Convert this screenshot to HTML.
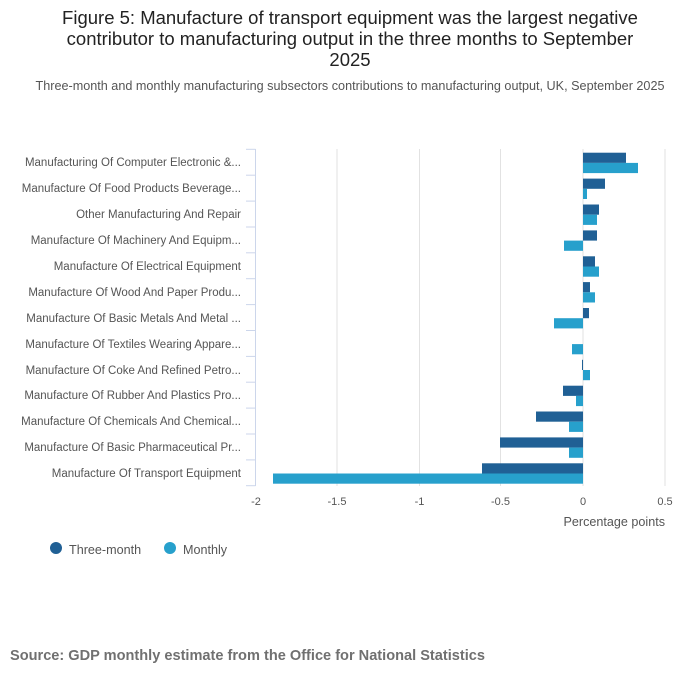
<!DOCTYPE html>
<html><head><meta charset="utf-8"><style>
body{margin:0;background:#fff;width:700px;height:682px;overflow:hidden;font-family:"Liberation Sans",sans-serif}
</style></head><body>
<svg width="700" height="682" xmlns="http://www.w3.org/2000/svg" font-family="Liberation Sans, sans-serif">
<text x="350" y="24" font-size="18.5" fill="#222" text-anchor="middle">Figure 5: Manufacture of transport equipment was the largest negative</text>
<text x="350" y="45" font-size="18.5" fill="#222" text-anchor="middle">contributor to manufacturing output in the three months to September</text>
<text x="350" y="66" font-size="18.5" fill="#222" text-anchor="middle">2025</text>
<text x="350" y="90" font-size="12.6" fill="#555" text-anchor="middle" textLength="629" lengthAdjust="spacingAndGlyphs">Three-month and monthly manufacturing subsectors contributions to manufacturing output, UK, September 2025</text>
<g stroke="#e2e2e2" stroke-width="1">
<line x1="337" y1="149" x2="337" y2="486"/><line x1="419.5" y1="149" x2="419.5" y2="486"/><line x1="500.5" y1="149" x2="500.5" y2="486"/><line x1="583" y1="149" x2="583" y2="486"/><line x1="665" y1="149" x2="665" y2="486"/>
</g>
<g stroke="#ccd6eb" stroke-width="1">
<line x1="255.5" y1="149" x2="255.5" y2="486"/>
<line x1="246" y1="149.3" x2="255.5" y2="149.3"/><line x1="246" y1="175.2" x2="255.5" y2="175.2"/><line x1="246" y1="201.1" x2="255.5" y2="201.1"/><line x1="246" y1="227" x2="255.5" y2="227"/><line x1="246" y1="252.8" x2="255.5" y2="252.8"/><line x1="246" y1="278.7" x2="255.5" y2="278.7"/><line x1="246" y1="304.6" x2="255.5" y2="304.6"/><line x1="246" y1="330.5" x2="255.5" y2="330.5"/><line x1="246" y1="356.4" x2="255.5" y2="356.4"/><line x1="246" y1="382.2" x2="255.5" y2="382.2"/><line x1="246" y1="408.1" x2="255.5" y2="408.1"/><line x1="246" y1="434" x2="255.5" y2="434"/><line x1="246" y1="459.9" x2="255.5" y2="459.9"/><line x1="246" y1="485.7" x2="255.5" y2="485.7"/>
</g>
<g font-size="11.5" fill="#555" text-anchor="end">
<text x="241" y="166">Manufacturing Of Computer Electronic &amp;...</text>
<text x="241" y="192">Manufacture Of Food Products Beverage...</text>
<text x="241" y="218">Other Manufacturing And Repair</text>
<text x="241" y="244">Manufacture Of Machinery And Equipm...</text>
<text x="241" y="270">Manufacture Of Electrical Equipment</text>
<text x="241" y="296">Manufacture Of Wood And Paper Produ...</text>
<text x="241" y="322">Manufacture Of Basic Metals And Metal ...</text>
<text x="241" y="348">Manufacture Of Textiles Wearing Appare...</text>
<text x="241" y="374">Manufacture Of Coke And Refined Petro...</text>
<text x="241" y="399">Manufacture Of Rubber And Plastics Pro...</text>
<text x="241" y="425">Manufacture Of Chemicals And Chemical...</text>
<text x="241" y="451">Manufacture Of Basic Pharmaceutical Pr...</text>
<text x="241" y="477">Manufacture Of Transport Equipment</text>
</g>
<g fill="#206095">
<rect x="583" y="152.7" width="43" height="10.2"/>
<rect x="583" y="178.6" width="22" height="10.2"/>
<rect x="583" y="204.5" width="16" height="10.2"/>
<rect x="583" y="230.4" width="14" height="10.2"/>
<rect x="583" y="256.3" width="12" height="10.2"/>
<rect x="583" y="282.1" width="7" height="10.2"/>
<rect x="583" y="308" width="6" height="10.2"/>
<rect x="582" y="359.8" width="1" height="10.2"/>
<rect x="563" y="385.7" width="20" height="10.2"/>
<rect x="536" y="411.5" width="47" height="10.2"/>
<rect x="500" y="437.4" width="83" height="10.2"/>
<rect x="482" y="463.3" width="101" height="10.2"/>
</g>
<g fill="#27a0cc">
<rect x="583" y="162.9" width="55" height="10.2"/>
<rect x="583" y="188.8" width="4" height="10.2"/>
<rect x="583" y="214.7" width="14" height="10.2"/>
<rect x="564" y="240.6" width="19" height="10.2"/>
<rect x="583" y="266.5" width="16" height="10.2"/>
<rect x="583" y="292.3" width="12" height="10.2"/>
<rect x="554" y="318.2" width="29" height="10.2"/>
<rect x="572" y="344.1" width="11" height="10.2"/>
<rect x="583" y="370" width="7" height="10.2"/>
<rect x="576" y="395.9" width="7" height="10.2"/>
<rect x="569" y="421.7" width="14" height="10.2"/>
<rect x="569" y="447.6" width="14" height="10.2"/>
<rect x="273" y="473.5" width="310" height="10.2"/>
</g>
<g font-size="11" fill="#555" text-anchor="middle">
<text x="256" y="505">-2</text><text x="337" y="505">-1.5</text><text x="419.5" y="505">-1</text><text x="500.5" y="505">-0.5</text><text x="583" y="505">0</text><text x="665" y="505">0.5</text>
</g>
<text x="665" y="526" font-size="12.6" fill="#555" text-anchor="end">Percentage points</text>
<circle cx="56" cy="548" r="6" fill="#206095"/>
<text x="69" y="554" font-size="12.6" fill="#555">Three-month</text>
<circle cx="170" cy="548" r="6" fill="#27a0cc"/>
<text x="183" y="554" font-size="12.6" fill="#555">Monthly</text>
<text x="10" y="660" font-size="14.6" font-weight="bold" fill="#707070" textLength="475" lengthAdjust="spacingAndGlyphs">Source: GDP monthly estimate from the Office for National Statistics</text>
</svg>
</body></html>
